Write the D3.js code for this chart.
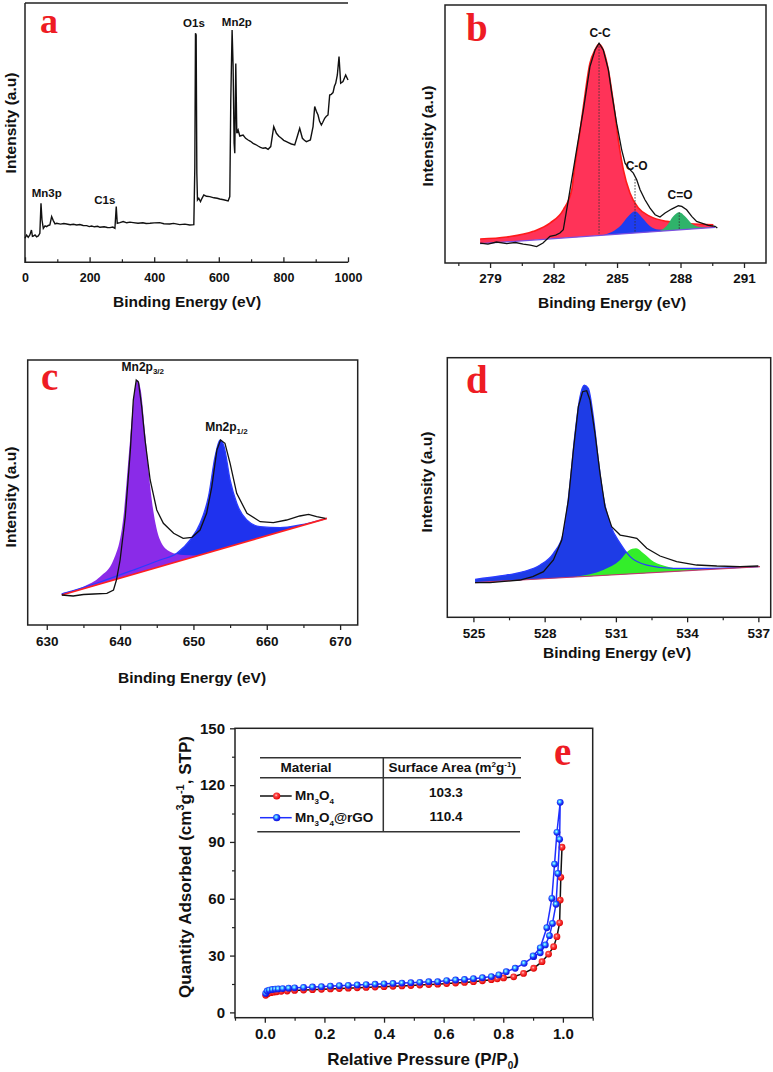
<!DOCTYPE html>
<html><head><meta charset="utf-8">
<script src="https://cdn.jsdelivr.net/npm/d3@7"></script>
<style>
body{margin:0;background:#fff;}
svg text{font-family:"Liberation Sans",Arial,sans-serif;font-weight:bold;fill:#111;}
</style></head><body>
<svg id="fig" width="773" height="1072"></svg>
<script>
// ---------------- DATA ----------------
// (a) survey spectrum  [binding energy eV, intensity a.u.]
const surveySpectrum = [[0,24],[5,27.3],[10,25],[15,27.3],[20,32.3],[23,26],[26,26.3],[31,27.3],[36,25.5],[41,26.3],[46,29],[49.5,59],[52.6,42.3],[56.7,34],[62,36.5],[67,35.7],[72,36.8],[77,37.3],[82.5,45.7],[87.6,41.7],[93,38.5],[98,39],[110,38.2],[120,38.8],[129,38.3],[140,37.5],[150,38],[160,37.3],[170,37.8],[180,36.8],[191,36.7],[199,35.7],[206,36.3],[215,35.5],[225,36],[232,35],[245,35.6],[255,34.8],[263,34.7],[272,35.2],[278.4,34],[282.5,55.7],[285.6,39],[293.8,39.7],[304,40.7],[315,39.5],[325,40.2],[335,39.7],[350,39],[365,39.6],[375,38.8],[387,39],[400,39.4],[417,39.7],[430,38.6],[448,38.3],[460,38.9],[479,37.7],[495,38.2],[510,37.3],[522.7,37.7],[525.8,95.7],[527.8,229],[529.9,227.3],[532,89],[534,62.3],[538,64],[543.3,60.7],[548,64],[553.6,67.3],[562,66],[572,65.7],[585,64.5],[595,64],[603,63.3],[615,62.5],[628.9,61.3],[634,65.7],[637.1,162.3],[641.2,232.3],[644.3,195.7],[647.4,119],[649.5,109],[652.6,198.7],[655.7,129],[659.8,132.3],[665,126.3],[675.3,127.3],[683,124],[690.7,122.3],[698,121],[706.2,119],[714,117.8],[721.6,116.3],[729,115],[737.1,114],[745,114.5],[752.6,113],[760.8,115.7],[770.1,135.7],[778.4,129],[786,126],[793.8,124],[801,122],[809.3,120.7],[817,119.5],[824.7,118.3],[835,117.3],[842.3,125],[850.5,134],[858.8,124],[865,122],[871.1,120.7],[877,121.5],[883.5,122.3],[891.8,135.7],[896.9,155.7],[902,151],[907.2,147.3],[912,141],[917.5,137.3],[922,140],[927.8,144],[933,146],[938.1,147.3],[943.3,167.3],[948,168],[953.6,169.7],[958,176],[961.9,179],[967,187.3],[972.2,205.7],[977.3,179],[984.5,180.7],[992.8,187.3],[1000,182.3]];
const surveyTicks = [0,200,400,600,800,1000];
const surveyMinor = [100,300,500,700,900];
const surveyLabels = [["Mn3p",67,65],["C1s",247,58],["O1s",523,235],["Mn2p",656,236]];

// (b) C1s
const c1sRaw = [[278.53,20],[278.9,19],[279.3,21],[279.79,19.5],[280.2,20.5],[280.57,19],[280.9,18],[281.2,16.5],[281.5,20],[281.83,26.7],[282.1,28],[282.3,30],[282.46,33.3],[282.7,63.3],[283.09,113.3],[283.41,153.3],[283.72,196.7],[283.96,213.3],[284.15,220],[284.35,213.3],[284.59,193.3],[284.75,170],[284.98,140],[285.22,113.3],[285.38,100],[285.54,95],[285.77,90],[285.93,83.3],[286.09,73.3],[286.32,63.3],[286.56,55],[286.8,48.3],[287.03,46],[287.27,50],[287.58,54],[287.9,57.3],[288.06,56.7],[288.29,53.3],[288.53,46.7],[288.76,41.7],[289.0,40],[289.31,37.7],[289.63,36.7],[289.74,35]];
const c1sCC = [[278.53,24],[279.79,26],[281.05,31.7],[281.83,40],[282.46,53.3],[282.86,73.3],[282.98,93.3],[283.17,120],[283.41,156.7],[283.72,200],[283.96,213.3],[284.15,219.3],[284.35,213.3],[284.59,193.3],[284.83,160],[285.06,123.3],[285.3,93.3],[285.61,70],[286.01,55],[286.56,46.7],[287.35,41.7],[288.45,39.3],[289.55,38.3]];
const c1sCO = [[284.4,28.2],[284.75,31],[285.2,38],[285.5,46],[285.85,51.7],[286.2,45],[286.55,37],[286.95,33.5],[287.4,33]];
const c1sCdO = [[287.0,31.8],[287.35,37.3],[287.66,46.7],[287.94,50.7],[288.21,46.7],[288.53,39.3],[288.92,36],[289.4,35.4]];
const c1sBaseline = [[278.53,19.3],[289.63,35.7]];
const c1sDrops = [[284.15,220],[285.85,84],[287.94,50.7]];
const c1sTicks = [279,282,285,288,291];
const c1sMinor = [277.5,280.5,283.5,286.5,289.5];
const c1sLabels = [["C-C",284.2,225.8],["C-O",285.93,93.3],["C=O",287.98,63.8]];

// (c) Mn2p
const mn2pRaw = [[632.05,30],[633.6,29],[635,30.5],[636.4,31],[638.2,31.7],[639.1,35],[639.5,45],[640.0,65],[640.7,108],[641.4,175],[641.8,225],[642.2,245],[642.5,243],[642.95,218],[643.4,185],[644.1,145],[645.0,115],[645.9,101.7],[647.3,91.7],[648.6,86.7],[649.8,87.7],[650.9,95],[651.8,111.7],[652.5,138],[653.2,175],[653.7,185],[654.3,181.7],[655.0,161.7],[655.9,131.7],[657.3,111.7],[659.1,103.3],[660.9,102.3],[662.7,105],[664.5,109],[665.7,110.7],[666.8,108.3],[668.0,106.7]];
const mn2p32 = [[632.05,31.7],[635.0,38.3],[637.27,48.3],[639.09,65],[640.45,108],[641.36,185],[642.05,238],[642.36,245],[642.82,235],[643.41,191.7],[644.32,125],[645.45,85],[646.82,73.3],[648.64,70],[650.45,69.5]];
const mn2p12 = [[632.05,31],[637.27,43],[641.82,55],[645.45,65],[647.73,71.7],[649.55,85],[650.91,101.7],[652.05,128.3],[652.95,168.3],[653.64,185],[654.18,178.3],[655.0,145],[655.91,121.7],[657.27,105],[659.09,98.3],[661.82,97.3],[664.55,100],[668.18,106.7]];
const mn2pBaseline = [[632.05,30],[668.2,106.7]];
const mn2pTicks = [630,640,650,660,670];
const mn2pMinor = [635,645,655,665];

// (d) O1s
const o1sRaw = [[525.07,34.7],[525.7,34.7],[526.96,37.3],[527.5,40.7],[527.95,45.7],[528.37,57.3],[528.72,77.3],[529.0,117.3],[529.21,167.3],[529.42,210.7],[529.6,225.7],[529.77,226.7],[529.91,217.3],[530.12,184],[530.33,144],[530.54,110.7],[530.82,90.7],[531.18,82.3],[531.53,80.7],[531.88,79],[532.3,69],[532.86,61.3],[533.56,55.7],[534.4,52.3],[535.25,51.3],[536.23,50.7],[537.0,51.3]];
const o1sLattice = [[525.07,38],[526.12,41.3],[527.11,45.7],[527.81,52.3],[528.37,64],[528.79,84],[529.07,134],[529.28,184],[529.49,220.7],[529.67,232.3],[529.84,229],[530.05,200.7],[530.26,157.3],[530.47,120.7],[530.75,94],[531.18,74],[531.6,60.7],[532.3,52.3],[533.42,49],[534.82,49],[537.0,50.7]];
const o1sOH = [[529.35,40.7],[530.47,47.3],[531.18,57.3],[531.53,66.7],[531.85,69],[532.16,64],[532.58,55.7],[533.14,50.7],[533.84,48.2],[534.82,47.9]];
const o1sBaseline = [[525.07,34.7],[537.07,50.7]];
const o1sTicks = [525,528,531,534,537];
const o1sMinor = [526.5,529.5,532.5,535.5];

// (e) N2 isotherms [P/P0, cm3/g STP]
const isoMn3O4 = [[0.003,9.0],[0.01,9.9],[0.02,10.4],[0.03,10.7],[0.04,10.9],[0.055,11.1],[0.075,11.3],[0.10,11.6],[0.13,11.8],[0.16,12.0],[0.19,12.2],[0.22,12.4],[0.25,12.6],[0.28,12.8],[0.31,13.0],[0.34,13.2],[0.37,13.4],[0.40,13.6],[0.43,13.8],[0.46,14.0],[0.49,14.2],[0.52,14.4],[0.55,14.7],[0.58,14.9],[0.61,15.2],[0.64,15.5],[0.67,15.8],[0.70,16.2],[0.73,16.7],[0.76,17.3],[0.78,17.7],[0.801,18.2],[0.835,18.8],[0.868,20.6],[0.902,23.3],[0.930,26.8],[0.952,30.8],[0.969,34.7],[0.980,40.0],[0.989,47.3],[0.991,59.3],[0.993,71.3],[0.997,87.2]];
const isoMn3O4rGO = [[0.003,10.0],[0.008,11.3],[0.015,11.8],[0.025,12.1],[0.035,12.3],[0.045,12.4],[0.06,12.6],[0.08,12.8],[0.10,13.0],[0.13,13.2],[0.16,13.4],[0.19,13.6],[0.22,13.9],[0.25,14.1],[0.28,14.3],[0.31,14.5],[0.34,14.7],[0.37,14.9],[0.40,15.1],[0.43,15.3],[0.46,15.5],[0.49,15.7],[0.52,15.9],[0.55,16.2],[0.58,16.2],[0.61,16.8],[0.64,17.1],[0.67,17.4],[0.70,17.8],[0.73,18.3],[0.76,18.9],[0.785,19.8],[0.81,21.5],[0.84,23.3],[0.87,25.9],[0.902,29.4],[0.924,31.5],[0.941,35.6],[0.955,40.5],[0.965,47.0],[0.977,57.1],[0.983,73.4],[0.989,91.4],[0.991,110.9],[0.980,95.1],[0.972,78.3],[0.963,60.2],[0.946,44.7],[0.924,34.1],[0.90,29.8]];
const isoXTicks = [0,0.2,0.4,0.6,0.8,1.0];
const isoXMinor = [-0.1,0.1,0.3,0.5,0.7,0.9,1.1];
const isoYTicks = [0,30,60,90,120,150];
const isoYMinor = [15,45,75,105,135];
const tableMaterials = ["Mn3O4","Mn3O4@rGO"];
const tableAreas = ["103.3","110.4"];

// ---------------- DRAWING ----------------
const svg = d3.select("#fig");
svg.append("rect").attr("width",773).attr("height",1072).attr("fill","#fff");
const defs = svg.append("defs");
function grad(id, stops){
  const g = defs.append("radialGradient").attr("id",id).attr("cx","42%").attr("cy","40%").attr("r","60%");
  stops.forEach(s=>g.append("stop").attr("offset",s[0]).attr("stop-color",s[1]));
}
grad("gBlue",[["0%","#c8fbff"],["28%","#45c8ff"],["60%","#1e3cff"],["100%","#1010d8"]]);
grad("gRed",[["0%","#ffd6d6"],["30%","#ff4a4a"],["100%","#e00000"]]);

const FRAME="#222";
function rich(sel, x, y, parts, size, anchor, rotate){
  const t = sel.append("text").attr("x",x).attr("y",y).attr("font-size",size).attr("text-anchor",anchor||"start");
  if(rotate) t.attr("transform",`rotate(-90,${x},${y})`);
  let cur=0;
  parts.forEach(p=>{
    const s=p[0], sh=p[1]||0, fs=p[2]||size;
    t.append("tspan").attr("dy",sh-cur).attr("font-size",fs).text(s);
    cur=sh;
  });
  return t;
}
function panelLetter(ch,x,y,fs){
  svg.append("text").attr("x",x).attr("y",y).text(ch)
    .style("font-family",'"Liberation Serif","Times New Roman",serif').style("fill","#ee1c24")
    .attr("font-size",fs||39).attr("font-weight","bold");
}
function bottomAxis(g, x, yPos, major, minor, fmt, fs, pad, inward){
  const dir = inward ? -1 : 1;
  g.append("g").attr("transform",`translate(0,${yPos})`)
    .call(d3.axisBottom(x).tickValues(minor).tickSize(3*dir).tickSizeOuter(0).tickFormat(""))
    .call(s=>{s.select(".domain").remove(); s.selectAll("line").attr("stroke",FRAME).attr("stroke-width",1.2);});
  g.append("g").attr("transform",`translate(0,${yPos})`)
    .call(d3.axisBottom(x).tickValues(major).tickSize(5*dir).tickSizeOuter(0).tickPadding(inward?pad+5:pad).tickFormat(fmt))
    .call(s=>{s.select(".domain").remove(); s.selectAll("line").attr("stroke",FRAME).attr("stroke-width",1.3);
      s.selectAll("text").attr("font-size",fs).attr("font-family",'"Liberation Sans",Arial,sans-serif').attr("font-weight","bold").attr("fill","#111");});
}
function frame(g,l,t,r,b){
  g.append("rect").attr("x",l).attr("y",t).attr("width",r-l).attr("height",b-t)
    .attr("fill","none").attr("stroke",FRAME).attr("stroke-width",1.5);
}
const line = (x,y,curve)=>d3.line().x(d=>x(d[0])).y(d=>y(d[1])).curve(curve||d3.curveLinear);
function areaOn(x,y,base){
  const bs = d3.scaleLinear().domain([base[0][0],base[1][0]]).range([base[0][1],base[1][1]]);
  return d3.area().x(d=>x(d[0])).y0(d=>y(bs(d[0]))).y1(d=>y(d[1])).curve(d3.curveMonotoneX);
}

// ===== Panel a =====
(function(){
  const L=25,R=348,T=3,B=262.3;
  const g=svg.append("g");
  const x=d3.scaleLinear().domain([0,1000]).range([L,R]);
  const y=d3.scaleLinear().domain([0,259.3]).range([B,T]);
  g.append("path").attr("d",`M${L},${T}V${B}H${R}`).attr("fill","none").attr("stroke",FRAME).attr("stroke-width",1.5);
  g.append("path").attr("d",`M${L},${T}H${R}`).attr("fill","none").attr("stroke",FRAME).attr("stroke-width",1.5);
  bottomAxis(g,x,B,surveyTicks,surveyMinor,d3.format("d"),12.5,6,true);
  g.append("path").datum(surveySpectrum).attr("d",line(x,y)).attr("fill","none").attr("stroke","#111").attr("stroke-width",1.4);
  surveyLabels.forEach(l=>g.append("text").attr("x",x(l[1])).attr("y",y(l[2])).attr("text-anchor","middle").attr("font-size",11.5).text(l[0]));
  rich(g,187,307,[["Binding Energy (eV)"]],15.5,"middle");
  rich(g,16,123,[["Intensity (a.u)"]],15.5,"middle",true);
  panelLetter("a",40,33,36);
})();

// ===== Panel b =====
(function(){
  const L=445,R=766,T=5,B=263;
  const g=svg.append("g");
  const x=d3.scaleLinear().domain([276.87,292.04]).range([L,R]);
  const y=d3.scaleLinear().domain([0,258.3]).range([B,T]);
  const ar=areaOn(x,y,c1sBaseline);
  g.append("path").datum(c1sCC).attr("d",ar).attr("fill","#ff3358");
  g.append("path").datum(c1sCC).attr("d",line(x,y,d3.curveMonotoneX)).attr("fill","none").attr("stroke","#ff1a1a").attr("stroke-width",1.6);
  g.append("path").datum(c1sCO).attr("d",ar).attr("fill","#1e3cf0");
  g.append("path").datum(c1sCdO).attr("d",ar).attr("fill","#2fb36a");
  const bs=d3.scaleLinear().domain([c1sBaseline[0][0],c1sBaseline[1][0]]).range([c1sBaseline[0][1],c1sBaseline[1][1]]);
  g.append("path").datum(c1sBaseline).attr("d",line(x,y)).attr("stroke","#7a50e0").attr("stroke-width",1.3).attr("fill","none");
  c1sDrops.forEach(d=>g.append("line").attr("x1",x(d[0])).attr("x2",x(d[0])).attr("y1",y(d[1])).attr("y2",y(bs(d[0])))
    .attr("stroke","#333").attr("stroke-width",0.9).attr("stroke-dasharray","1.5,1.5"));
  g.append("path").datum(c1sRaw).attr("d",line(x,y)).attr("fill","none").attr("stroke","#111").attr("stroke-width",1.3);
  frame(g,L,T,R,B);
  bottomAxis(g,x,B,c1sTicks,c1sMinor,d3.format("d"),13.5,5);
  c1sLabels.forEach(l=>g.append("text").attr("x",x(l[1])).attr("y",y(l[2])).attr("text-anchor","middle").attr("font-size",12).text(l[0]));
  rich(g,612,308,[["Binding Energy (eV)"]],15.5,"middle");
  rich(g,433,136,[["Intensity (a.u)"]],15.5,"middle",true);
  panelLetter("b",466,41);
})();

// ===== Panel c =====
(function(){
  const L=27.7,R=357.7,T=360,B=625;
  const g=svg.append("g");
  const x=d3.scaleLinear().domain([627.4,672.4]).range([L,R]);
  const y=d3.scaleLinear().domain([0,265]).range([B,T]);
  const ar=areaOn(x,y,mn2pBaseline);
  g.append("path").datum(mn2p12).attr("d",ar).attr("fill","#1f32ee");
  g.append("path").datum(mn2p32).attr("d",ar).attr("fill","#8a2be8");
  g.append("path").datum(mn2p12).attr("d",line(x,y,d3.curveMonotoneX)).attr("fill","none").attr("stroke","#2a3cff").attr("stroke-width",1.3);
  g.append("path").datum(mn2pBaseline).attr("d",line(x,y)).attr("stroke","#ff2020").attr("stroke-width",1.8).attr("fill","none");
  g.append("path").datum(mn2pRaw).attr("d",line(x,y)).attr("fill","none").attr("stroke","#111").attr("stroke-width",1.3);
  frame(g,L,T,R,B);
  bottomAxis(g,x,B,mn2pTicks,mn2pMinor,d3.format("d"),13.5,6.5);
  rich(g,x(640.2),y(254.3),[["Mn2p"],["3/2",3,8]],12,"start");
  rich(g,x(651.6),y(194.3),[["Mn2p"],["1/2",3,8]],12,"start");
  rich(g,192,683,[["Binding Energy (eV)"]],15.5,"middle");
  rich(g,16,497,[["Intensity (a.u)"]],15.5,"middle",true);
  panelLetter("c",41,390);
})();

// ===== Panel d =====
(function(){
  const L=447.3,R=770.7,T=357.7,B=617.3;
  const g=svg.append("g");
  const x=d3.scaleLinear().domain([523.9,537.52]).range([L,R]);
  const y=d3.scaleLinear().domain([0,259.7]).range([B,T]);
  const ar=areaOn(x,y,o1sBaseline);
  g.append("path").datum(o1sLattice).attr("d",ar).attr("fill","#1e3ce6");
  g.append("path").datum(o1sOH).attr("d",ar).attr("fill","#33ee2a");
  g.append("path").datum(o1sLattice).attr("d",line(x,y,d3.curveMonotoneX)).attr("fill","none").attr("stroke","#2a3cff").attr("stroke-width",1.3);
  g.append("path").datum(o1sBaseline).attr("d",line(x,y)).attr("stroke","#c03a6a").attr("stroke-width",1.2).attr("fill","none");
  g.append("path").datum(o1sRaw).attr("d",line(x,y)).attr("fill","none").attr("stroke","#111").attr("stroke-width",1.3);
  frame(g,L,T,R,B);
  bottomAxis(g,x,B,o1sTicks,o1sMinor,d3.format("d"),13.5,6);
  rich(g,617,658,[["Binding Energy (eV)"]],15.5,"middle");
  rich(g,432,482,[["Intensity (a.u)"]],15.5,"middle",true);
  panelLetter("d",466,393);
})();

// ===== Panel e =====
(function(){
  const L=235,R=592.7,T=728.3,B=1017.7;
  const g=svg.append("g");
  const x=d3.scaleLinear().domain([-0.1,1.1]).range([L,R]);
  const y=d3.scaleLinear().domain([-2.8,150]).range([B,T]);
  frame(g,L,T,R,B);
  bottomAxis(g,x,B,isoXTicks,isoXMinor,d3.format(".1f"),15,5.5);
  g.append("g").attr("transform",`translate(${L},0)`)
    .call(d3.axisLeft(y).tickValues(isoYMinor).tickSize(3).tickFormat(""))
    .call(s=>{s.select(".domain").remove(); s.selectAll("line").attr("stroke",FRAME).attr("stroke-width",1.2);});
  g.append("g").attr("transform",`translate(${L},0)`)
    .call(d3.axisLeft(y).tickValues(isoYTicks).tickSize(5).tickPadding(5).tickFormat(d3.format("d")))
    .call(s=>{s.select(".domain").remove(); s.selectAll("line").attr("stroke",FRAME).attr("stroke-width",1.3);
      s.selectAll("text").attr("font-size",15).attr("font-family",'"Liberation Sans",Arial,sans-serif').attr("font-weight","bold").attr("fill","#111");});
  // series
  g.append("path").datum(isoMn3O4).attr("d",line(x,y)).attr("fill","none").attr("stroke","#111").attr("stroke-width",1.5);
  g.selectAll("circle.r").data(isoMn3O4).join("circle").attr("class","r")
    .attr("cx",d=>x(d[0])).attr("cy",d=>y(d[1])).attr("r",3.4).attr("fill","url(#gRed)");
  g.append("path").datum(isoMn3O4rGO).attr("d",line(x,y)).attr("fill","none").attr("stroke","#1f2fff").attr("stroke-width",1.5);
  g.selectAll("circle.b").data(isoMn3O4rGO).join("circle").attr("class","b")
    .attr("cx",d=>x(d[0])).attr("cy",d=>y(d[1])).attr("r",3.4).attr("fill","url(#gBlue)");
  // table
  const tl=(x1,x2,yy)=>g.append("line").attr("x1",x1).attr("x2",x2).attr("y1",yy).attr("y2",yy).attr("stroke","#333").attr("stroke-width",1.5);
  tl(260,521,757.7); tl(260,521,777.7); tl(257.3,520,831.7);
  g.append("line").attr("x1",383.3).attr("x2",383.3).attr("y1",757.7).attr("y2",831.7).attr("stroke","#333").attr("stroke-width",1.5);
  rich(g,306,772.3,[["Material"]],13.5,"middle");
  rich(g,388.5,772.3,[["Surface Area (m"],["2",-5,8],["g",0],["-1",-5,8],[")",0]],13.5,"start");
  const rowsY=[796,817.7];
  const cols=[["#111","url(#gRed)"],["#1f2fff","url(#gBlue)"]];
  tableMaterials.forEach((m,i)=>{
    const yy=rowsY[i];
    g.append("line").attr("x1",260).attr("x2",291.7).attr("y1",yy).attr("y2",yy).attr("stroke",cols[i][0]).attr("stroke-width",1.5);
    g.append("circle").attr("cx",276.7).attr("cy",yy).attr("r",3.6).attr("fill",cols[i][1]);
    const parts=[];
    parts.push(["Mn"]); parts.push(["3",4,8]); parts.push(["O",0]); parts.push(["4",4,8]);
    if(m.indexOf("@")>=0) parts.push(["@rGO",0]);
    rich(g,295,yy+4,parts,13.5,"start");
    rich(g,446,yy+(i===0?0.7:3),[[tableAreas[i]]],13.5,"middle");
  });
  rich(g,423,1065,[["Relative Pressure (P/P"],["0",4,10],[")",0]],17,"middle");
  rich(g,191,867,[["Quantity Adsorbed (cm"],["3",-7,11],["g",0],["-1",-7,11],[", STP)",0]],17,"middle",true);
  panelLetter("e",554,765);
})();
</script>
</body></html>
